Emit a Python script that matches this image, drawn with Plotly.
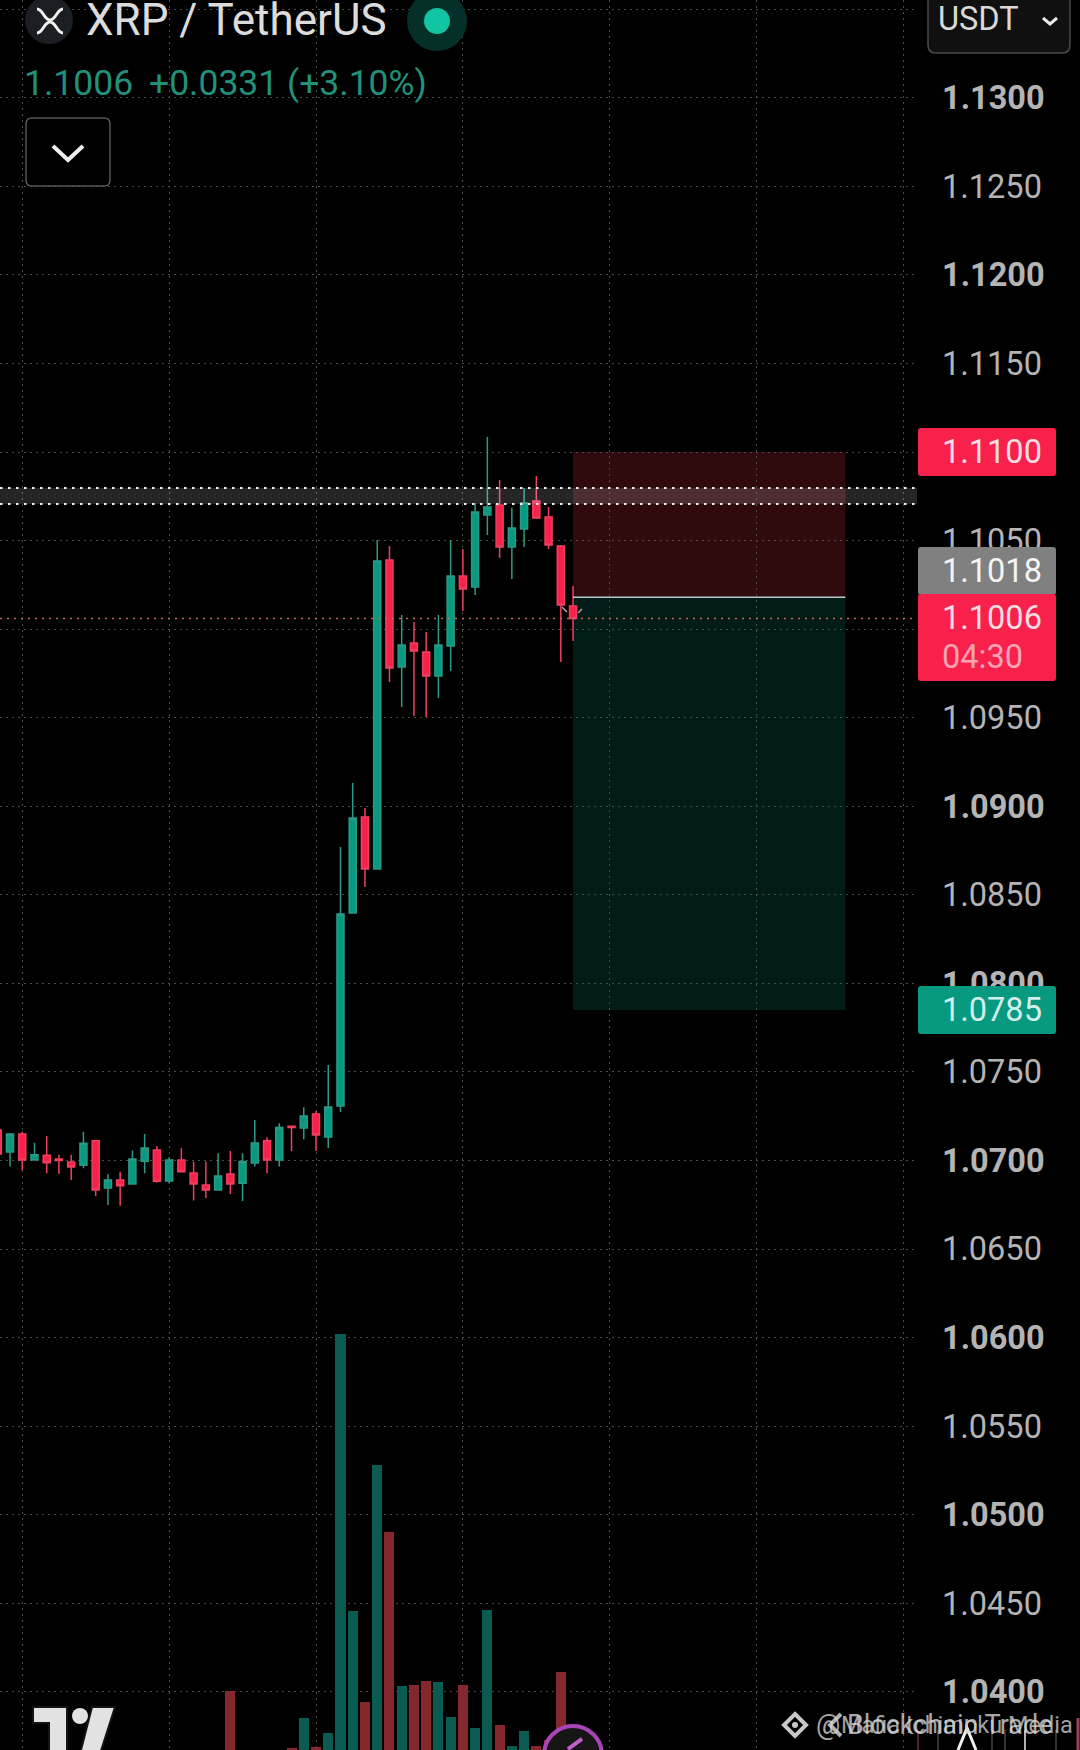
# XRP / USDT candlestick screenshot, short position box on top
import plotly.graph_objects as go

W = 1080
H = 1750

opens = [1.07173, 1.07048, 1.07150, 1.07003, 1.07030, 1.07009, 1.06992, 1.06973, 1.07111, 1.06845,
         1.06890, 1.06868, 1.06996, 1.07060, 1.06885, 1.07003, 1.06930, 1.06862, 1.06834, 1.06924,
         1.06872, 1.06986, 1.07111, 1.07003, 1.07193, 1.07184, 1.07263, 1.07133, 1.07308, 1.08398,
         1.08940, 1.08646, 1.10390, 1.09786, 1.09922, 1.09871, 1.09736, 1.09905, 1.10300, 1.10238,
         1.10644, 1.10701, 1.10464, 1.10565, 1.10723, 1.10633, 1.10469, 1.10131]
highs = [1.07173, 1.07150, 1.07163, 1.07101, 1.07139, 1.07032, 1.07033, 1.07163, 1.07111, 1.06924,
         1.06937, 1.07056, 1.07150, 1.07082, 1.07018, 1.07069, 1.06994, 1.06994, 1.07041, 1.07054,
         1.07041, 1.07229, 1.07131, 1.07210, 1.07195, 1.07301, 1.07280, 1.07540, 1.08770, 1.09131,
         1.08990, 1.10503, 1.10469, 1.10080, 1.10040, 1.09984, 1.10080, 1.10503, 1.10452, 1.10712,
         1.11085, 1.10842, 1.10684, 1.10797, 1.10865, 1.10690, 1.10475, 1.10244]
lows = [1.07032, 1.06966, 1.06943, 1.07003, 1.06928, 1.06924, 1.06890, 1.06956, 1.06800, 1.06749,
        1.06744, 1.06864, 1.06928, 1.06875, 1.06872, 1.06936, 1.06774, 1.06789, 1.06834, 1.06811,
        1.06772, 1.06966, 1.06928, 1.06966, 1.07054, 1.07120, 1.07054, 1.07071, 1.07274, 1.08398,
        1.08544, 1.08646, 1.09702, 1.09561, 1.09510, 1.09504, 1.09611, 1.09764, 1.10102, 1.10193,
        1.10531, 1.10402, 1.10283, 1.10464, 1.10622, 1.10452, 1.09815, 1.09933]
closes = [1.07037, 1.07150, 1.07003, 1.07032, 1.06988, 1.07000, 1.06964, 1.07097, 1.06834, 1.06890,
          1.06857, 1.07009, 1.07071, 1.06883, 1.07003, 1.06936, 1.06868, 1.06834, 1.06913, 1.06868,
          1.06994, 1.07099, 1.07003, 1.07186, 1.07186, 1.07252, 1.07144, 1.07302, 1.08392, 1.08934,
          1.08646, 1.10385, 1.09781, 1.09911, 1.09877, 1.09736, 1.09911, 1.10300, 1.10227, 1.10661,
          1.10690, 1.10464, 1.10571, 1.10712, 1.10627, 1.10475, 1.10136, 1.10060]
# volume, only the part that shows above the bottom edge of the screenshot
volumes = [0, 0, 0, 0, 0, 0, 0, 0, 0, 0,
           0, 0, 0, 0, 0, 0, 0, 0, 0, 59,
           0, 0, 0, 0, 2, 32, 3, 17, 416, 139,
           48, 285, 218, 64, 65, 69, 68, 33, 65, 22,
           140, 25, 4, 19, 4, 10, 78, 10]

price_ticks = [1.04, 1.045, 1.05, 1.055, 1.06, 1.065, 1.07, 1.075, 1.08, 1.085, 1.09, 1.095,
               1.10, 1.105, 1.11, 1.115, 1.12, 1.125, 1.13, 1.135]
time_grid = [2, 14, 26, 38, 50, 62, 74]

stop_price = 1.1100
entry_price = 1.1018
target_price = 1.0785
last_price = 1.1006
zone_top = 1.10797
zone_bottom = 1.10706
box_start = 47
box_end = 69.25

GREEN = '#089981'
RED = '#f7214b'
FONT = 'Roboto'

candle_x = list(range(len(opens)))
vol_colors = ['#0a5c52' if c >= o else '#85282e' for o, c in zip(opens, closes)]
tick_text = []
for t in price_ticks:
    s = f'{t:.4f}'
    tick_text.append(f'<b>{s}</b>' if round(t * 1000) % 10 == 0 else s)

fig = go.Figure()
fig.add_trace(go.Bar(x=candle_x, y=volumes, yaxis='y2', width=0.82, marker_color=vol_colors,
                     marker_line_width=0, hoverinfo='skip'))
fig.add_trace(go.Candlestick(
    x=candle_x, open=opens, high=highs, low=lows, close=closes,
    whiskerwidth=0,
    increasing=dict(line=dict(color='#2a9a86', width=1.5), fillcolor=GREEN),
    decreasing=dict(line=dict(color='#ef3f5f', width=1.5), fillcolor=RED),
))


# everything around the chart is placed in screen pixels
def px(x, y):
    return f'{x / W:.5f},{1 - y / H:.5f}'


def path(points, closed=False):
    return 'M' + ' L'.join(px(x, y) for x, y in points) + (' Z' if closed else '')


def round_rect(x0, y0, x1, y1, r):
    return (f'M{px(x0 + r, y0)} L{px(x1 - r, y0)} Q{px(x1, y0)} {px(x1, y0 + r)} '
            f'L{px(x1, y1 - r)} Q{px(x1, y1)} {px(x1 - r, y1)} L{px(x0 + r, y1)} '
            f'Q{px(x0, y1)} {px(x0, y1 - r)} L{px(x0, y0 + r)} Q{px(x0, y0)} {px(x0 + r, y0)} Z')


def add_path(d, fill=None, line=None, lw=0):
    fig.add_shape(type='path', path=d, xref='paper', yref='paper', layer='above',
                  fillcolor=fill if fill else 'rgba(0,0,0,0)',
                  line=dict(color=line if line else 'rgba(0,0,0,0)', width=lw))


def add_circle(cx, cy, r, fill, line=None, lw=0):
    fig.add_shape(type='circle', xref='paper', yref='paper', layer='above',
                  x0=(cx - r) / W, x1=(cx + r) / W, y0=1 - (cy + r) / H, y1=1 - (cy - r) / H,
                  fillcolor=fill, line=dict(color=line if line else 'rgba(0,0,0,0)', width=lw))


def add_text(x, y, s, size, color, anchor='left'):
    fig.add_annotation(xref='paper', yref='paper', x=x / W, y=1 - y / H, text=s, showarrow=False,
                       xanchor=anchor, yanchor='middle', borderpad=0,
                       font=dict(family=FONT, size=size, color=color))


# position box
fig.add_shape(type='rect', x0=box_start, x1=box_end, y0=entry_price, y1=stop_price, layer='below',
              fillcolor='rgba(242,54,69,0.2)', line_width=0)
fig.add_shape(type='rect', x0=box_start, x1=box_end, y0=target_price, y1=entry_price, layer='below',
              fillcolor='rgba(8,153,129,0.19)', line_width=0)
fig.add_shape(type='line', x0=box_start, x1=box_end, y0=entry_price, y1=entry_price,
              line=dict(color='#b8cac4', width=1.5))

# last price line
fig.add_shape(type='line', xref='x domain', x0=0, x1=1, y0=last_price, y1=last_price,
              line=dict(color='#c06a52', width=1.5, dash='2px,5px'))

# drawn zone with dotted edges
fig.add_shape(type='rect', xref='x domain', x0=0, x1=1, y0=zone_bottom, y1=zone_top, layer='above',
              fillcolor='rgba(255,255,255,0.15)', line_width=0)
for z in [zone_bottom, zone_top]:
    fig.add_shape(type='line', xref='x domain', x0=0, x1=1, y0=z, y1=z, layer='above',
                  line=dict(color='#f0f0f0', width=2, dash='2.5px,5.5px'))

# little cursor marks next to the last candle
add_path(path([(562, 607), (567, 612)]), line='#c89aa0', lw=1.5)
add_path(path([(578, 613), (582, 609)]), line='#c89aa0', lw=1.5)

# header
add_circle(49, 20, 24, '#1b1e22')
add_path(f'M{px(37, 9)} C{px(43, 9)} {px(44, 20)} {px(50, 20)} C{px(56, 20)} {px(57, 9)} {px(63, 9)}',
         line='#f0f0f0', lw=3)
add_path(f'M{px(37, 33)} C{px(43, 33)} {px(44, 22)} {px(50, 22)} C{px(56, 22)} {px(57, 33)} {px(63, 33)}',
         line='#f0f0f0', lw=3)
add_text(85, 20, 'XRP / TetherUS', 44, '#dcdcdc')
add_circle(437, 21, 30, '#05302a')
add_circle(437, 21, 13, '#10c4a4')
add_text(23, 83, '1.1006', 35.5, '#22917c')
add_text(148, 83, '+0.0331 (+3.10%)', 35.5, '#22917c')

# collapse button
add_path(round_rect(26, 118, 110, 186, 6), line='#565656', lw=1.5)
add_path(path([(53, 146), (68, 160), (83, 146)]), line='#eeeeee', lw=4)

# currency selector
add_path(round_rect(928, -12, 1070, 53, 8), fill='#101010', line='#4a4a4a', lw=1.5)
add_text(937, 19, 'USDT', 32.5, '#d8d8d8')
add_path(path([(1043, 18), (1050, 24), (1057, 18)]), line='#e8e8e8', lw=3)

# price labels on the scale
add_path(round_rect(918, 428, 1056, 476, 3), fill=RED)
add_path(round_rect(918, 547, 1056, 595, 3), fill='#808080')
add_path(round_rect(918, 594, 1056, 681, 3), fill=RED)
add_path(round_rect(918, 986, 1056, 1034, 3), fill=GREEN)
add_text(941, 452, f'{stop_price:.4f}', 32.5, '#fbdde3')
add_text(941, 571, f'{entry_price:.4f}', 32.5, '#f4f4f4')
add_text(941, 618, f'{last_price:.4f}', 32.5, '#fbdde3')
add_text(941, 657, '04:30', 32.5, '#f9a3b5')
add_text(941, 1010, f'{target_price:.4f}', 32.5, '#d2efe9')

# tradingview logo
add_path(path([(33, 1707), (67, 1707), (67, 1754), (49, 1754), (49, 1723), (33, 1723)], True),
         fill='#e2e2e2', line='#141414', lw=2)
add_circle(80, 1716, 8, '#e2e2e2')
add_path(path([(92, 1707), (115, 1707), (100, 1754), (80, 1754)], True),
         fill='#e2e2e2', line='#141414', lw=2)

# speed button at the bottom
add_circle(573, 1755, 29, '#161616', '#a945b8', 4)
add_path(path([(568, 1749), (582, 1739)]), line='#c060c8', lw=4)

# cut-off toolbar lines and the two overlaid watermarks
for x_line, c in [(918, '#6a3040'), (938, '#444444'), (992, '#444444'), (1005, '#444444'), (1025, '#eeeeee'), (1056, '#444444')]:
    add_path(path([(x_line, 1730), (x_line, 1750)]), line=c, lw=1.5)
add_path(path([(958, 1750), (967, 1728), (976, 1750)]), line='#eeeeee', lw=3)
add_path(path([(1078, 1718), (1078, 1750)]), line='#a04058', lw=3)
add_path(path([(795, 1714), (806, 1725), (795, 1736), (784, 1725)], True), line='#c8c8c8', lw=4)
add_circle(795, 1725, 3, '#c8c8c8')
add_path(path([(841, 1714), (830, 1725), (841, 1736)]), line='#b0b0b0', lw=4)
add_text(815, 1725, '@ Blockchain Trade', 27, 'rgba(215,215,215,0.8)')
add_text(840, 1725, 'Mafia Ichimoku Media', 23.5, 'rgba(215,215,215,0.75)')

fig.update_layout(
    width=W, height=H,
    margin=dict(l=0, r=0, t=0, b=0),
    paper_bgcolor='#000000',
    plot_bgcolor='#000000',
    showlegend=False,
    boxgap=0.18,
    bargap=0,
    xaxis=dict(domain=[0, 917 / W], range=[0.183, 75.1], rangeslider_visible=False,
               tickvals=time_grid, showticklabels=False, ticks='', showline=False, zeroline=False,
               gridcolor='#4c4c4c', griddash='2px,4px', gridwidth=1),
    yaxis=dict(side='right', range=[1.03672, 1.13552], tickvals=price_ticks, ticktext=tick_text,
               ticks='', ticklabelstandoff=24, showline=False, zeroline=False,
               tickfont=dict(family=FONT, size=32.5, color='#b4b4b4'),
               gridcolor='#4c4c4c', griddash='2px,4px', gridwidth=1),
    yaxis2=dict(overlaying='y', range=[0, H], visible=False),
)

fig.write_html('out.html', config=dict(displayModeBar=False),
               post_script="document.body.style.margin='0';document.body.style.background='#000';"
                           "document.documentElement.style.overflow='hidden';")
